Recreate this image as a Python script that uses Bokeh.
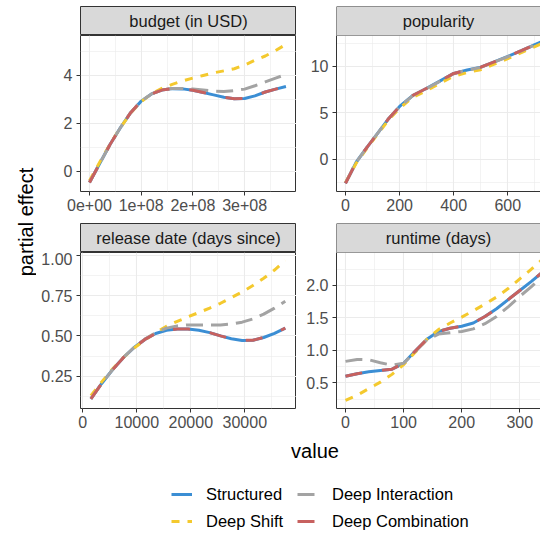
from math import pi
from bokeh.plotting import figure
from bokeh.layouts import row, column
from bokeh.models import Range1d, FixedTicker, Span, Label, Legend, LegendItem
from bokeh.embed import file_html
from bokeh.resources import INLINE

# ---------------- data ----------------
series_names = ["Structured", "Deep Shift", "Deep Interaction", "Deep Combination"]
panel_titles = ["budget (in USD)", "popularity", "release date (days since)", "runtime (days)"]

budget_x = [0, 2e7, 4e7, 6e7, 8e7, 1e8, 1.2e8, 1.4e8, 1.6e8, 1.8e8, 2e8,
            2.2e8, 2.4e8, 2.6e8, 2.8e8, 3e8, 3.2e8, 3.4e8, 3.6e8, 3.8e8]
budget_structured = [-0.47, 0.33, 1.12, 1.82, 2.45, 2.92, 3.22, 3.38, 3.44, 3.43, 3.37,
                     3.28, 3.18, 3.08, 3.02, 3.03, 3.14, 3.30, 3.42, 3.53]
budget_shift = [-0.40, 0.38, 1.14, 1.82, 2.43, 2.90, 3.22, 3.45, 3.62, 3.76, 3.88,
                3.99, 4.10, 4.18, 4.27, 4.42, 4.62, 4.80, 5.03, 5.28]
budget_interaction = [-0.47, 0.33, 1.12, 1.82, 2.45, 2.92, 3.22, 3.39, 3.45, 3.45, 3.42,
                      3.38, 3.34, 3.32, 3.36, 3.42, 3.56, 3.72, 3.88, 4.03]
budget_combination = [-0.47, 0.33, 1.12, 1.82, 2.45, 2.92, 3.22, 3.38, 3.44, 3.43, 3.37,
                      3.28, 3.18, 3.08, 3.02, 3.03, 3.14, 3.30, 3.42, 3.53]

pop_x = [0, 40, 80, 120, 160, 200, 250, 300, 350, 400, 450, 500, 550, 600, 650, 700, 740]
pop_structured = [-2.60, -0.30, 1.30, 2.85, 4.40, 5.69, 6.90, 7.65, 8.45, 9.25, 9.62,
                  9.92, 10.50, 11.08, 11.70, 12.35, 12.85]
pop_shift = [-2.50, -0.40, 1.20, 2.75, 4.25, 5.50, 6.70, 7.40, 8.20, 8.95, 9.35,
             9.65, 10.25, 10.85, 11.50, 12.15, 12.65]
pop_interaction = [-2.55, -0.30, 1.30, 2.85, 4.40, 5.65, 6.88, 7.62, 8.42, 9.22, 9.60,
                   9.90, 10.48, 11.05, 11.68, 12.32, 12.82]
pop_combination = [-2.60, -0.30, 1.30, 2.85, 4.40, 5.69, 6.90, 7.65, 8.45, 9.25, 9.62,
                   9.92, 10.50, 11.08, 11.70, 12.35, 12.85]

rel_x = [1500, 3500, 5500, 7500, 9500, 11500, 13500, 15500, 17500, 19500,
         21500, 23500, 25500, 27500, 29500, 31500, 33500, 35500, 37500]
rel_structured = [0.110, 0.205, 0.290, 0.365, 0.428, 0.478, 0.515, 0.535, 0.543, 0.543,
                  0.535, 0.520, 0.500, 0.482, 0.472, 0.473, 0.490, 0.516, 0.548]
rel_shift = [0.130, 0.215, 0.295, 0.365, 0.425, 0.475, 0.520, 0.560, 0.590, 0.618,
             0.645, 0.672, 0.702, 0.737, 0.772, 0.812, 0.857, 0.908, 0.967]
rel_interaction = [0.110, 0.205, 0.290, 0.365, 0.428, 0.480, 0.520, 0.548, 0.562, 0.568,
                   0.568, 0.567, 0.568, 0.573, 0.585, 0.605, 0.635, 0.672, 0.715]
rel_combination = [0.110, 0.205, 0.290, 0.365, 0.428, 0.478, 0.515, 0.535, 0.543, 0.543,
                   0.535, 0.520, 0.500, 0.482, 0.472, 0.473, 0.490, 0.516, 0.548]

run_x = [0, 20, 40, 60, 80, 100, 120, 140, 160, 180, 200, 220, 240, 260, 280, 300, 320, 340, 350]
run_structured = [0.60, 0.64, 0.67, 0.69, 0.71, 0.80, 0.99, 1.17, 1.29, 1.34,
                  1.37, 1.42, 1.52, 1.64, 1.78, 1.92, 2.06, 2.21, 2.28]
run_shift = [0.23, 0.31, 0.41, 0.51, 0.63, 0.78, 0.97, 1.17, 1.32, 1.42,
             1.51, 1.61, 1.71, 1.82, 1.95, 2.10, 2.25, 2.41, 2.49]
run_interaction = [0.83, 0.86, 0.855, 0.81, 0.77, 0.80, 0.98, 1.16, 1.25, 1.27,
                   1.29, 1.33, 1.41, 1.52, 1.67, 1.83, 1.98, 2.14, 2.22]
run_combination = [0.60, 0.64, 0.67, 0.69, 0.71, 0.80, 0.99, 1.17, 1.29, 1.34,
                   1.37, 1.42, 1.52, 1.64, 1.78, 1.92, 2.06, 2.21, 2.28]

budget_xticks = [0, 1e8, 2e8, 3e8]
budget_xlabels = ["0e+00", "1e+08", "2e+08", "3e+08"]
budget_yticks = [0, 2, 4]
budget_ylabels = ["0", "2", "4"]
pop_xticks = [0, 200, 400, 600]
pop_xlabels = ["0", "200", "400", "600"]
pop_yticks = [0, 5, 10]
pop_ylabels = ["0", "5", "10"]
rel_xticks = [0, 10000, 20000, 30000]
rel_xlabels = ["0", "10000", "20000", "30000"]
rel_yticks = [0.25, 0.5, 0.75, 1.0]
rel_ylabels = ["0.25", "0.50", "0.75", "1.00"]
run_xticks = [0, 100, 200, 300]
run_xlabels = ["0", "100", "200", "300"]
run_yticks = [0.5, 1.0, 1.5, 2.0]
run_ylabels = ["0.5", "1.0", "1.5", "2.0"]

# ---------------- styles ----------------
FONT = "Liberation Sans"
styles = {
    "Structured": dict(line_color="#3B8ED4", line_width=3, line_dash="solid"),
    "Deep Shift": dict(line_color="#F4C92E", line_width=3, line_dash="8 8"),
    "Deep Interaction": dict(line_color="#A3A3A3", line_width=3, line_dash="17 8"),
    "Deep Combination": dict(line_color="#C7615F", line_width=3, line_dash="17 20"),
}
BORDER = "#333333"
GRID = "#EBEBEB"
RIGHT_W = 204


def minor_between(ticks):
    step = ticks[1] - ticks[0]
    return [ticks[0] - step / 2] + [t + step / 2 for t in ticks]


def make_panel(xs, ys_list, xr, yr, xticks, xlabels, yticks, ylabels, left_col, bottom_border):
    fw = 216 if left_col else RIGHT_W
    p = figure(frame_width=fw, frame_height=156,
               x_range=Range1d(*xr), y_range=Range1d(*yr),
               min_border_left=44 if left_col else 40, min_border_right=0,
               min_border_top=0, min_border_bottom=bottom_border,
               toolbar_location=None, output_backend="svg", title=None)
    p.background_fill_color = "white"
    p.border_fill_color = "white"
    p.xaxis.ticker = FixedTicker(ticks=xticks, minor_ticks=minor_between(xticks))
    p.yaxis.ticker = FixedTicker(ticks=yticks, minor_ticks=minor_between(yticks))
    p.xaxis.major_label_overrides = {float(t): l for t, l in zip(xticks, xlabels)}
    p.yaxis.major_label_overrides = {float(t): l for t, l in zip(yticks, ylabels)}
    for ax in p.axis:
        ax.major_tick_in = 0
        ax.major_tick_out = 4
        ax.major_tick_line_color = BORDER
        ax.minor_tick_line_color = None
        ax.major_label_text_font = FONT
        ax.major_label_text_font_size = "16px"
        ax.major_label_text_color = "#4D4D4D"
        ax.axis_line_color = None if left_col else BORDER
    p.xaxis.major_label_standoff = 3
    p.yaxis.major_label_standoff = 4
    for g in p.grid:
        g.grid_line_color = GRID
        g.grid_line_width = 1.1
        g.minor_grid_line_color = GRID
        g.minor_grid_line_width = 0.6
    if left_col:
        p.outline_line_color = BORDER
        p.outline_line_width = 1
    else:
        p.outline_line_color = None
        p.add_layout(Span(location=yr[1], dimension="width", line_color=BORDER, line_width=1))
    for name, ys in zip(series_names, ys_list):
        p.line(xs, ys, **styles[name])
    return p


def make_strip(text, h, left_col, top_border):
    fw = 216 if left_col else RIGHT_W
    s = figure(frame_width=fw, frame_height=h, x_range=Range1d(0, 1), y_range=Range1d(0, 1),
               min_border_left=44 if left_col else 40, min_border_right=0,
               min_border_top=top_border, min_border_bottom=0,
               x_axis_location=None, y_axis_location=None,
               toolbar_location=None, output_backend="svg", title=None)
    for g in s.grid:
        g.visible = False
    s.background_fill_color = "#D9D9D9"
    s.border_fill_color = "white"
    if left_col:
        s.outline_line_color = BORDER
    else:
        s.outline_line_color = None
        s.add_layout(Span(location=0, dimension="height", line_color=BORDER, line_width=1))
        s.add_layout(Span(location=0, dimension="width", line_color=BORDER, line_width=1))
        s.add_layout(Span(location=1, dimension="width", line_color=BORDER, line_width=1))
    s.add_layout(Label(x=0.5, y=0.5, text=text, text_align="center", text_baseline="middle",
                       text_font=FONT, text_font_size="16.5px", text_color="#1A1A1A"))
    return s


p_tl = make_panel(budget_x, [budget_structured, budget_shift, budget_interaction, budget_combination],
                  (-0.174e8, 4.004e8), (-0.846, 5.654), budget_xticks, budget_xlabels,
                  budget_yticks, budget_ylabels, True, 32)
p_tr = make_panel(pop_x, [pop_structured, pop_shift, pop_interaction, pop_combination],
                  (-33.3, 720.9), (-3.48, 13.34), pop_xticks, pop_xlabels,
                  pop_yticks, pop_ylabels, False, 32)
p_bl = make_panel(rel_x, [rel_structured, rel_shift, rel_interaction, rel_combination],
                  (-426, 39574), (0.05, 1.0167), rel_xticks, rel_xlabels,
                  rel_yticks, rel_ylabels, True, 26)
p_br = make_panel(run_x, [run_structured, run_shift, run_interaction, run_combination],
                  (-15.5, 335.6), (0.105, 2.505), run_xticks, run_xlabels,
                  run_yticks, run_ylabels, False, 26)

s_tl = make_strip(panel_titles[0], 29, True, 6)
s_tr = make_strip(panel_titles[1], 29, False, 6)
s_bl = make_strip(panel_titles[2], 29, True, 0)
s_br = make_strip(panel_titles[3], 29, False, 0)

# y-axis title
ylab = figure(frame_width=36, frame_height=434, x_range=Range1d(0, 36), y_range=Range1d(0, 434),
              min_border_left=0, min_border_right=0, min_border_top=0, min_border_bottom=0,
              x_axis_location=None, y_axis_location=None,
              toolbar_location=None, output_backend="svg", title=None)
for g in ylab.grid:
    g.visible = False
ylab.outline_line_color = None
ylab.add_layout(Label(x=25, y=212.5, text="partial effect", angle=pi / 2, text_align="center",
                      text_baseline="middle", text_font=FONT, text_font_size="20px",
                      text_color="black"))

# bottom: x-axis title + legend
bottom = figure(frame_width=540, frame_height=99, x_range=Range1d(0, 540), y_range=Range1d(0, 99),
                min_border_left=0, min_border_right=0, min_border_top=0, min_border_bottom=0,
                x_axis_location=None, y_axis_location=None,
                toolbar_location=None, output_backend="svg", title=None)
for g in bottom.grid:
    g.visible = False
bottom.outline_line_color = None
bottom.add_layout(Label(x=314.5, y=83, text="value", text_align="center",
                        text_baseline="alphabetic", text_font=FONT, text_font_size="20px",
                        text_color="black"))

# legend-only renderers (placed outside the visible range)
dummy = {name: bottom.line(x=[-20, -10], y=[-20, -20], **styles[name]) for name in series_names}


def make_legend(names, xloc):
    return Legend(items=[LegendItem(label=n, renderers=[dummy[n]]) for n in names],
                  location=(xloc, 2), orientation="vertical",
                  glyph_width=21, glyph_height=20, label_height=20, label_standoff=14,
                  spacing=7, padding=0, margin=0, border_line_color=None,
                  background_fill_alpha=0, label_text_font=FONT,
                  label_text_font_size="16.5px", label_text_color="black")


bottom.add_layout(make_legend(["Structured", "Deep Shift"], 171))
bottom.add_layout(make_legend(["Deep Interaction", "Deep Combination"], 297))

left_col = column(s_tl, p_tl, s_bl, p_bl)
right_col = column(s_tr, p_tr, s_br, p_br)
top = row(ylab, left_col, right_col)
root = column(top, bottom)

open("out.html", "w").write(file_html(root, INLINE))
